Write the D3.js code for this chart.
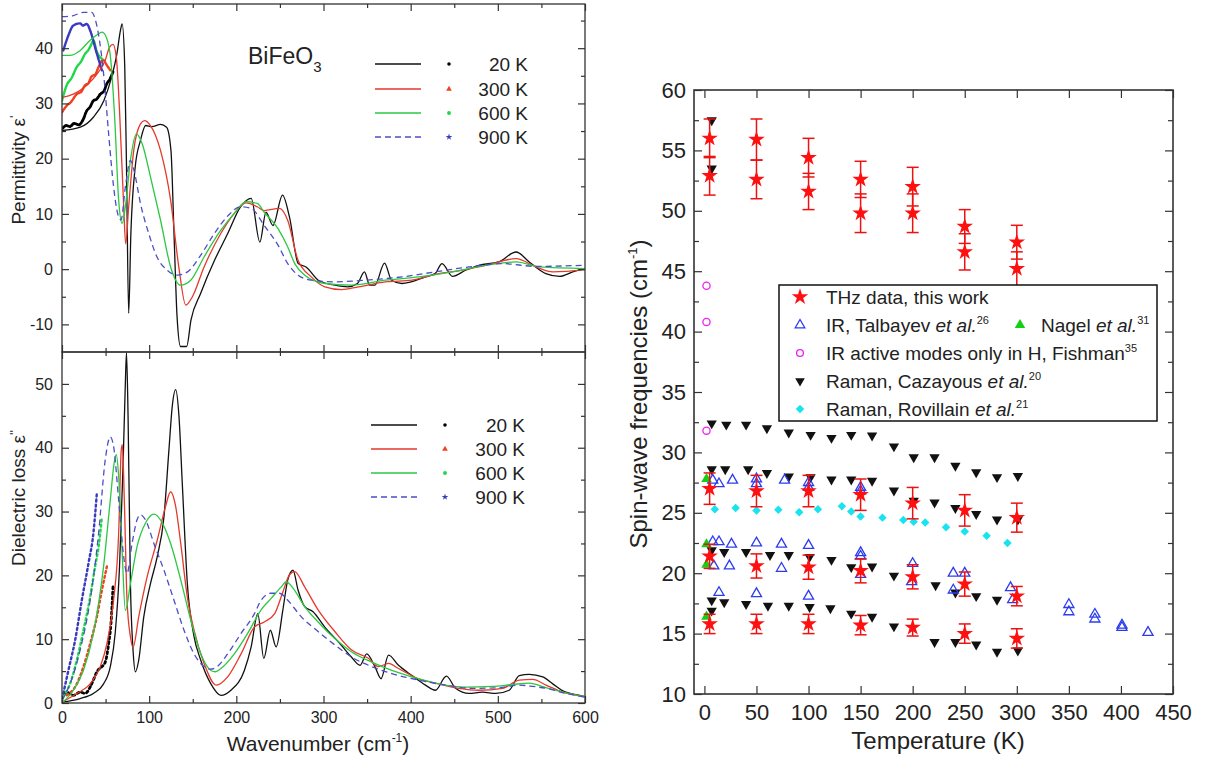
<!DOCTYPE html>
<html>
<head>
<meta charset="utf-8">
<script src="https://cdn.jsdelivr.net/npm/d3@7"></script>
<style>
body { margin: 0; background: #fff; }
text { font-family: "Liberation Sans", Arial, sans-serif; fill: #222; }
</style>
</head>
<body>
<svg id="fig" width="1210" height="760"></svg>
<script>
// ---------- left panels: BiFeO3 permittivity / dielectric loss ----------
var temps = ["20 K", "300 K", "600 K", "900 K"]

// eps' model curves [wavenumber, value]
var eps1_20 = [[0,25.1],[21,25.7],[36,27.5],[48,30.5],[57,34.8],[63,39],[67,43.2],[69,44.4],[72,36.6],[74,18.5],[76.5,-8.0],[79,6.4],[84,18.5],[90,23.3],[96,26],[103,25.8],[113,26.2],[120,25.7],[125,21.5],[128.5,6.4],[132,-8.6],[136,-14],[143,-14],[148,-9.2],[159,-4.4],[175,1.6],[190,6.4],[205,11.3],[217,12.8],[227,4.9],[234,10.3],[242,7.9],[253,13.4],[261,9.4],[271,1.0],[280,0.4],[294,-2.0],[313,-2.9],[328,-3.2],[339,-2.6],[347,-0.5],[353,-2.9],[359,-2.9],[370,1.1],[378,-2.0],[390,-2.6],[417,-1.4],[428,-0.8],[436,1.0],[448,-1.3],[463,-0.2],[478,0.7],[501,1.3],[521,3.1],[536,1.3],[555,-0.8],[571,-1.3],[586,-0.5],[600,0.1]]
var eps1_300 = [[0,31.1],[13,31.7],[28.5,33.3],[42,35.7],[49.6,37.8],[54.6,40.2],[58.5,40.7],[62.3,38.4],[66,28.7],[70.8,11.3],[73,4.6],[76.5,11.3],[82.3,21.5],[90,26.3],[94.6,26.9],[101.5,26],[113,21.5],[124.6,12.5],[134,0.4],[142,-6.5],[149.6,-5],[163,0.4],[182,6.4],[197.7,10.1],[211,12.0],[224,11.3],[232,10.6],[249.5,11.0],[259,8.8],[270.8,1.6],[286,-1.4],[301.5,-3.2],[320.7,-3.7],[340,-3.2],[371,-2.3],[401.5,-2.0],[432,-0.8],[455,-0.3],[486,0.7],[521,1.9],[544,0.4],[563,-0.5],[600,-0.1]]
var eps1_600 = [[0,38.7],[9,38.7],[21,39.6],[32,41.4],[42,42.6],[46,42.9],[51.5,41.7],[56,37.8],[60.4,27.5],[65,12.5],[69,8.3],[72.7,11.3],[78.5,19.7],[85.4,24.5],[92,22.7],[101.5,16.7],[113,8.9],[124.6,0.4],[136,-2.9],[147.7,-2.0],[163,2.2],[182,7.0],[197.7,10.1],[211,12.2],[224,11.9],[232,10.3],[248,7.3],[259,4.0],[267,1.0],[278.5,-1.1],[301.5,-2.6],[332,-2.9],[371,-2.0],[409.5,-1.4],[448,-0.5],[486,0.7],[521,1.3],[548,0.4],[600,0.1]]
var eps1_900 = [[0,45.7],[13,45.9],[24.6,46.5],[34,46.5],[38,45.3],[43,41.4],[47.7,35.4],[53.5,24.5],[59.2,14.9],[63.8,10.1],[67.7,8.9],[72.7,14.9],[78.5,19.7],[83,17.6],[90,11.9],[99.6,6.4],[109,2.2],[120.8,-0.2],[132.3,-1.1],[144,-0.5],[159,2.5],[174.6,6.4],[190,9.6],[205,11.3],[217,11.0],[232,7.9],[248,4.3],[259,1.0],[270.8,-1.1],[286,-2.0],[313,-2.3],[347.5,-2.0],[390,-1.4],[428,-0.5],[467,0.4],[505,1.0],[544,0.5],[600,0.7]]

// eps' THz data
var eps1data_20 = [[0,25.4],[5,26.0],[9,25.8],[14,26.4],[19,26.1],[24,27.0],[28.5,28.7],[32,29.3],[36,30.5],[40,30.8],[44,31.7],[48,32.2],[51.5,33.6],[55,34.4],[58.5,35.7]]
var eps1data_300 = [[0,28.4],[5.4,29.6],[10,30.2],[17,31.7],[22,32.1],[26.5,33.3],[30,33.6],[34,34.9],[38,35.2],[42,36.6],[47,37.9],[51.5,36.9],[55.4,36]]
var eps1data_600 = [[0,30.5],[5.4,33.3],[11,34.6],[17,36.6],[22,37.6],[26.5,39],[30,39.6],[34,40.8],[36,41.4],[40,39.3],[45.8,38.1]]
var eps1data_900 = [[1.5,39.6],[7.3,42.3],[13,44.1],[20.8,44.5],[24,44.1],[28.5,44.4],[32.3,43.2],[40,39],[45.8,36.0]]

// eps'' model curves
var eps2_20 = [[0,0.15],[20.8,0.7],[36,1.5],[47.7,3.0],[55.4,5.7],[61,10.9],[66,21.4],[70,37],[72.7,50.2],[74,54.9],[75.8,44.9],[78.5,18.7],[81.5,8.3],[84.2,4.9],[88,6.7],[93.8,13.5],[101.5,18.7],[109.2,22.9],[117,29.2],[122.7,39.7],[126.5,46.5],[130.4,49.1],[134.2,44.9],[138,34.4],[143.8,18.7],[151.5,10.4],[159.2,6.7],[170.8,3.0],[182.3,1.2],[193.8,2.0],[209.2,5.1],[217,8.8],[224.6,14.0],[231.5,7.0],[239,11.4],[245.7,8.8],[253.4,14.6],[259,19.3],[265,20.8],[270.8,17.7],[278.4,15.1],[288,14.3],[301.5,11.9],[317,9.6],[332,7.2],[342,5.9],[349.6,7.7],[359,5.7],[366,3.8],[374.6,7.5],[386,5.9],[401.5,4.3],[417,2.8],[428.4,2.0],[441,4.2],[451.5,2.3],[467,1.5],[482.3,1.7],[497.6,1.5],[513,2.0],[524.6,4.3],[536,4.5],[551.5,4.1],[563,3.0],[574.6,1.9],[593.8,1.2],[600,1.0]]
var eps2_300 = [[0,0.15],[17,1.5],[32.3,3.0],[43.9,5.7],[51.5,9.3],[59.2,16.1],[65,26.6],[68,39.7],[69.2,40.5],[71.5,31.8],[74.6,16.1],[78.5,10.4],[81.5,8.7],[88,13.5],[97.7,19.8],[109.2,25.5],[118.8,30.8],[124.6,33.1],[130.4,30.8],[136.2,25],[143.8,16.6],[151.5,11.4],[163,6.2],[177,2.8],[190,4.1],[205.4,7.7],[220.8,11.9],[232,12.7],[244,14.0],[253.4,17.4],[261,20.1],[266.9,20.6],[278.4,18.2],[293.8,14.6],[313,11.2],[332.3,8.3],[351.5,7.0],[363,5.7],[374.6,6.2],[386,5.4],[409.2,3.8],[432,3.0],[455.3,2.3],[478.4,2.0],[505.3,2.3],[524.6,3.6],[540,3.7],[555.3,2.8],[574.6,1.7],[600,1.0]]
var eps2_600 = [[0,0],[13,2.0],[24.6,5.1],[36,10.9],[47.7,21.4],[55.4,31.8],[60.4,38.1],[62.3,38.9],[65,35.5],[68.9,24],[72.7,14.5],[78.5,18.7],[86.1,24.5],[95.8,28.2],[105.4,29.6],[113,28.7],[124.6,25.0],[136.2,19.3],[147.7,13.0],[159.2,7.7],[170.8,5.1],[176,4.9],[182.3,5.4],[197.7,7.7],[213,10.9],[228.4,14.6],[240,16.4],[251.5,18.2],[257.3,19.0],[265,18.0],[278.4,15.1],[293.8,12.7],[313,10.1],[332.3,8.0],[355.4,6.4],[378.4,5.1],[401.5,4.1],[432.3,3.0],[463,2.5],[493.8,2.6],[517,2.9],[536,3.1],[555.3,2.4],[574.6,1.7],[600,1.0]]
var eps2_900 = [[0,0.4],[9.2,3.0],[20.8,8.3],[32.3,16.1],[42,26.6],[49.6,38.1],[55.4,41.7],[59.2,40.2],[65,31.8],[70.8,22.9],[74.6,20.3],[80.4,25.0],[86.1,28.7],[90,29.5],[95.8,28.7],[105.4,25.0],[117,20.8],[128.5,16.1],[140,11.4],[151.5,7.7],[163,5.7],[170,5.3],[178,5.7],[190,7.7],[205.4,10.9],[220.8,14.0],[228.4,16.1],[240,17.2],[249.6,17.2],[259,16.1],[274.6,13.5],[293.8,11.2],[313,9.1],[332.3,7.2],[355.4,5.7],[378.4,4.6],[409.2,3.6],[440,2.8],[470.7,2.3],[501.5,2.4],[524.6,2.8],[540,2.6],[555.3,2.3],[578.4,1.5],[600,0.9]]

// eps'' THz data
var eps2data_20 = [[0,0.7],[5.4,1.7],[13,1.2],[20.8,1.7],[26.5,1.5],[32.3,2.5],[36,3.6],[40,4.9],[45.8,5.7],[49.6,6.4],[53.5,9.3],[56.2,12.5],[58.5,18.2]]
var eps2data_300 = [[5.4,1.2],[17,3.0],[24.6,5.7],[32.3,9.3],[40,13.5],[45.8,17.7],[51.5,21.4]]
var eps2data_600 = [[1.5,1.0],[9.2,3.0],[17,6.7],[24.6,11.4],[32.3,16.6],[38,21.4],[42,24.5],[45.8,29.2]]
var eps2data_900 = [[1.5,1.5],[7.3,5.1],[15,9.8],[22.7,16.1],[30.4,21.9],[36,26.6],[40,32.9]]

var wnTicks = [0, 100, 200, 300, 400, 500, 600]
var wnMinor = [50, 150, 250, 350, 450, 550]
var eps1Ticks = [-10, 0, 10, 20, 30, 40]
var eps1Minor = [-5, 5, 15, 25, 35, 45]
var eps2Ticks = [0, 10, 20, 30, 40, 50]
var eps2Minor = [5, 15, 25, 35, 45]

// ---------- right panel: spin-wave frequencies ----------
var thzT   = [5,5,5,5,5, 50,50,50,50,50, 100,100,100,100,100, 150,150,150,150,150, 200,200,200,200,200, 250,250,250,250,250, 300,300,300,300,300]
var thzF   = [56.0,52.9,27.0,21.4,15.8, 55.9,52.6,26.8,20.6,15.8, 54.4,51.6,26.8,20.5,15.8, 52.6,49.8,26.5,20.2,15.7, 52.0,49.8,25.8,19.7,15.5, 48.7,46.6,25.2,19.1,15.0, 47.4,45.2,24.6,18.1,14.6]
var thzErr = [1.6,1.6,1.3,1.0,0.8, 1.7,1.6,1.3,1.0,0.8, 1.6,1.5,1.3,1.0,0.8, 1.5,1.6,1.3,1.0,0.8, 1.6,1.6,1.3,1.0,0.7, 1.4,1.5,1.3,1.0,0.8, 1.4,1.4,1.2,0.8,0.8]

var talbT = [8,14,27,50,50,77,100,100,150,150, 8,14,26,50,74,100,150,150,200,239,250,294, 9,24,74,150,199,239,296, 14,50,100, 350,350,375,375,401,401,426]
var talbF = [27.7,27.4,27.7,27.8,27.4,27.7,27.5,27.1,27.1,26.8, 22.6,22.6,22.4,22.5,22.4,22.3,21.7,21.4,20.8,20.0,20.0,18.8, 20.6,20.6,20.4,19.9,19.3,18.6,17.8, 18.4,18.3,18.1, 17.4,16.8,16.6,16.2,15.7,15.5,15.1]

var nagelT = [2, 2, 2, 2]
var nagelF = [27.8, 22.4, 20.7, 16.4]

var fishT = [2, 2, 2]
var fishF = [43.8, 40.8, 31.8]

var cazT = [7,7,
  7,21,40,60,81,102,122,141,161,182,201,221,241,261,281,301,
  7,20,42,60,81,102,122,141,161,182,201,221,241,261,281,301,
  7,19,40,63,81,101,122,141,161,182,222,241,261,281,
  7,7,19,40,61,81,101,121,141,161,182,221,241,261,281,301]
var cazF = [57.5,53.5,
  32.4,32.3,32.3,32.0,31.65,31.45,31.2,31.45,31.4,30.5,29.6,29.6,28.9,28.35,27.95,28.05,
  28.6,28.6,28.6,28.3,28.0,27.95,27.75,27.75,27.65,26.85,26.0,25.85,25.4,24.9,24.45,24.45,
  21.9,21.75,21.75,21.5,21.5,21.35,21.1,20.5,20.55,19.8,19.0,18.4,18.1,17.8,
  17.75,16.9,17.6,17.45,17.3,17.3,17.2,17.1,16.65,16.4,15.6,14.3,14.3,14.1,13.5,13.6]

var rovT = [10,30,50,71,91,109,132,141,150,171,191,201,212,232,250,271,291]
var rovF = [25.3,25.4,25.2,25.25,25.05,25.3,25.55,25.1,24.7,24.6,24.4,24.25,24.2,23.8,23.45,23.1,22.5]

var tTicks = [0, 50, 100, 150, 200, 250, 300, 350, 400, 450]
var fTicks = [10, 15, 20, 25, 30, 35, 40, 45, 50, 55, 60]
var fMinor = [12.5, 17.5, 22.5, 27.5, 32.5, 37.5, 42.5, 47.5, 52.5, 57.5]

// ---------- drawing ----------
var svg = d3.select('#fig')

var lineCols = ["#111111", "#e5392b", "#2bc843", "#4d4dc8"]
var dataCols = ["#000000", "#f0401c", "#1fd848", "#3a3ac0"]

var xW = d3.scaleLinear().domain([0, 600]).range([62, 585])
var yE1 = d3.scaleLinear().domain([-15, 48]).range([352, 4])
var yE2 = d3.scaleLinear().domain([0, 55]).range([703, 352])

function styleAxis(g, fs) {
    g.select('.domain').remove()
    g.selectAll('.tick line').attr('stroke', '#333').attr('stroke-width', 1.2)
    g.selectAll('.tick text').style('font-size', fs + 'px').attr('fill', '#222')
        .style('font-family', '"Liberation Sans", Arial, sans-serif')
}

var noLab = () => ''
var numLab = d => String(d)

function panelFrame(x, y, majX, minX, majY, minY, labelX, fsTick, big) {
    var len = big ? 8 : 7, mlen = big ? 5 : 4
    var x0 = x.range()[0], x1 = x.range()[1], y0 = y.range()[0], y1 = y.range()[1]
    svg.append('g').attr('transform', `translate(0,${y0})`)
        .call(d3.axisBottom(x).tickValues(majX).tickSize(-len).tickPadding(big ? 10 : 9).tickFormat(labelX ? numLab : noLab))
        .call(g => styleAxis(g, fsTick))
    svg.append('g').attr('transform', `translate(0,${y1})`)
        .call(d3.axisTop(x).tickValues(majX).tickSize(-len).tickFormat(noLab))
        .call(g => styleAxis(g, fsTick))
    if (minX.length) {
        svg.append('g').attr('transform', `translate(0,${y0})`)
            .call(d3.axisBottom(x).tickValues(minX).tickSize(-mlen).tickFormat(noLab)).call(g => styleAxis(g, fsTick))
        svg.append('g').attr('transform', `translate(0,${y1})`)
            .call(d3.axisTop(x).tickValues(minX).tickSize(-mlen).tickFormat(noLab)).call(g => styleAxis(g, fsTick))
    }
    svg.append('g').attr('transform', `translate(${x0},0)`)
        .call(d3.axisLeft(y).tickValues(majY).tickSize(-len).tickPadding(big ? 8 : 9).tickFormat(numLab))
        .call(g => styleAxis(g, fsTick))
    svg.append('g').attr('transform', `translate(${x1},0)`)
        .call(d3.axisRight(y).tickValues(majY).tickSize(-len).tickFormat(noLab))
        .call(g => styleAxis(g, fsTick))
    svg.append('g').attr('transform', `translate(${x0},0)`)
        .call(d3.axisLeft(y).tickValues(minY).tickSize(-mlen).tickFormat(noLab)).call(g => styleAxis(g, fsTick))
    svg.append('g').attr('transform', `translate(${x1},0)`)
        .call(d3.axisRight(y).tickValues(minY).tickSize(-mlen).tickFormat(noLab)).call(g => styleAxis(g, fsTick))
    svg.append('rect').attr('x', x0).attr('y', y1).attr('width', x1 - x0).attr('height', y0 - y1)
        .attr('fill', 'none').attr('stroke', '#333').attr('stroke-width', big ? 1.6 : 1.3)
}

// clip paths for the two left panels
var defs = svg.append('defs')
defs.append('clipPath').attr('id', 'clipTop').append('rect')
    .attr('x', 62).attr('y', 4).attr('width', 523).attr('height', 348)
defs.append('clipPath').attr('id', 'clipBot').append('rect')
    .attr('x', 62).attr('y', 352).attr('width', 523).attr('height', 351)

function drawCurves(clip, yScale, models, datas) {
    var g = svg.append('g').attr('clip-path', `url(#${clip})`)
    var line = d3.line().x(d => xW(d[0])).y(d => yScale(d[1])).curve(d3.curveMonotoneX)
    var dash = clip == 'clipTop' ? '2.5,1' : '2,3'
    datas.forEach((d, i) => {
        g.append('path').datum(d).attr('d', line)
            .attr('fill', 'none').attr('stroke', dataCols[i]).attr('stroke-width', i == 0 ? 2.8 : 2.4)
            .attr('stroke-dasharray', dash).attr('stroke-linecap', 'round')
    })
    models.forEach((d, i) => {
        g.append('path').datum(d).attr('d', line)
            .attr('fill', 'none').attr('stroke', lineCols[i]).attr('stroke-width', 1.3)
            .attr('stroke-dasharray', i == 3 ? '6,4' : null)
    })
}

drawCurves('clipTop', yE1, [eps1_20, eps1_300, eps1_600, eps1_900], [eps1data_20, eps1data_300, eps1data_600, eps1data_900])
drawCurves('clipBot', yE2, [eps2_20, eps2_300, eps2_600, eps2_900], [eps2data_20, eps2data_300, eps2data_600, eps2data_900])

panelFrame(xW, yE1, wnTicks, wnMinor, eps1Ticks, eps1Minor, false, 16, false)
panelFrame(xW, yE2, wnTicks, wnMinor, eps2Ticks, eps2Minor, true, 16, false)

// left legends
var legSym = [d3.symbolCircle, d3.symbolTriangle, d3.symbolCircle, d3.symbolStar]
var legSize = [10, 14, 12, 14]
function leftLegend(xs, xm, xt, ys) {
    temps.forEach((t, i) => {
        var y = ys[i]
        svg.append('line').attr('x1', xs).attr('x2', xs + 46).attr('y1', y).attr('y2', y)
            .attr('stroke', lineCols[i]).attr('stroke-width', 1.4).attr('stroke-dasharray', i == 3 ? '6,4' : null)
        svg.append('path').attr('d', d3.symbol().type(legSym[i]).size(legSize[i]))
            .attr('transform', `translate(${xm},${y})`).attr('fill', dataCols[i])
        svg.append('text').attr('x', xt).attr('y', y + 7).attr('text-anchor', 'end')
            .style('font-size', '19px').text(t)
    })
}
leftLegend(375, 449, 528, [64, 89, 113, 137])
leftLegend(371, 445, 525, [425, 449, 473, 497])

var bfo = svg.append('text').attr('x', 248).attr('y', 64).style('font-size', '23px')
bfo.append('tspan').text('BiFeO')
bfo.append('tspan').attr('dy', 8).style('font-size', '15px').text('3')

function subText(sel, parts) {
    parts.forEach(p => {
        var ts = sel.append('tspan').text(p.t)
        if (p.i) ts.style('font-style', 'italic')
        if (p.sup) ts.attr('dy', p.dy).style('font-size', p.fs + 'px')
        if (p.back) ts.attr('dy', p.back)
    })
}

var wnLab = svg.append('text').attr('x', 318).attr('y', 751).attr('text-anchor', 'middle').style('font-size', '21px')
subText(wnLab, [{t: 'Wavenumber (cm'}, {t: '-1', sup: true, dy: -9, fs: 12}, {t: ')', back: 9}])

var p1 = svg.append('text').attr('transform', 'translate(25,170) rotate(-90)').attr('text-anchor', 'middle').style('font-size', '19px')
subText(p1, [{t: 'Permittivity ε'}, {t: "'", sup: true, dy: -6, fs: 13}])
var p2 = svg.append('text').attr('transform', 'translate(25,498) rotate(-90)').attr('text-anchor', 'middle').style('font-size', '19px')
subText(p2, [{t: 'Dielectric loss ε'}, {t: "''", sup: true, dy: -6, fs: 13}])

// ---------- right panel ----------
var xT = d3.scaleLinear().domain([-10, 450]).range([694, 1173])
var yF = d3.scaleLinear().domain([10, 60]).range([694, 90])

var gR = svg.append('g')
function pts(T, F) { return T.map((t, i) => ({t: t, f: F[i]})) }

gR.selectAll('.caz').data(pts(cazT, cazF)).enter().append('path')
    .attr('d', d3.symbol().type(d3.symbolTriangle).size(46))
    .attr('transform', d => `translate(${xT(d.t)},${yF(d.f)}) rotate(180)`)
    .attr('fill', '#111')
gR.selectAll('.rov').data(pts(rovT, rovF)).enter().append('path')
    .attr('d', d3.symbol().type(d3.symbolSquare).size(36))
    .attr('transform', d => `translate(${xT(d.t)},${yF(d.f)}) rotate(45)`)
    .attr('fill', '#19e3ee')
gR.selectAll('.talb').data(pts(talbT, talbF)).enter().append('path')
    .attr('d', d3.symbol().type(d3.symbolTriangle).size(44))
    .attr('transform', d => `translate(${xT(d.t)},${yF(d.f)})`)
    .attr('fill', 'none').attr('stroke', '#2b3cf0').attr('stroke-width', 1.3)
gR.selectAll('.nagel').data(pts(nagelT, nagelF)).enter().append('path')
    .attr('d', d3.symbol().type(d3.symbolTriangle).size(48))
    .attr('transform', d => `translate(${xT(d.t)},${yF(d.f)})`)
    .attr('fill', '#12d012')
gR.selectAll('.fish').data(pts(fishT, fishF)).enter().append('circle')
    .attr('cx', d => xT(d.t)).attr('cy', d => yF(d.f)).attr('r', 3.6)
    .attr('fill', 'none').attr('stroke', '#f020f0').attr('stroke-width', 1.3)

var thz = thzT.map((t, i) => ({t: t, f: thzF[i], e: thzErr[i]}))
var eb = gR.selectAll('.eb').data(thz).enter().append('g').attr('stroke', '#ee1111').attr('stroke-width', 1.5)
eb.append('line').attr('x1', d => xT(d.t)).attr('x2', d => xT(d.t))
    .attr('y1', d => yF(d.f + d.e)).attr('y2', d => yF(d.f - d.e))
eb.append('line').attr('x1', d => xT(d.t) - 6).attr('x2', d => xT(d.t) + 6)
    .attr('y1', d => yF(d.f + d.e)).attr('y2', d => yF(d.f + d.e))
eb.append('line').attr('x1', d => xT(d.t) - 6).attr('x2', d => xT(d.t) + 6)
    .attr('y1', d => yF(d.f - d.e)).attr('y2', d => yF(d.f - d.e))
gR.selectAll('.star').data(thz).enter().append('path')
    .attr('d', d3.symbol().type(d3.symbolStar).size(85))
    .attr('transform', d => `translate(${xT(d.t)},${yF(d.f)})`)
    .attr('fill', '#ff1010')

panelFrame(xT, yF, tTicks, [], fTicks, fMinor, true, 22, true)

var tLab = svg.append('text').attr('x', 938).attr('y', 749).attr('text-anchor', 'middle').style('font-size', '24px').text('Temperature (K)')
var fLab = svg.append('text').attr('transform', 'translate(647,394) rotate(-90)').attr('text-anchor', 'middle').style('font-size', '24px')
subText(fLab, [{t: 'Spin-wave frequencies (cm'}, {t: '-1', sup: true, dy: -10, fs: 13}, {t: ')', back: 10}])

// legend box
var lg = svg.append('g')
lg.append('rect').attr('x', 779).attr('y', 285).attr('width', 378).attr('height', 136)
    .attr('fill', '#fff').attr('stroke', '#111').attr('stroke-width', 1.5)
var rowY = [297, 325, 353, 381, 409]
lg.append('path').attr('d', d3.symbol().type(d3.symbolStar).size(85)).attr('transform', `translate(800,${rowY[0]})`).attr('fill', '#ff1010')
lg.append('path').attr('d', d3.symbol().type(d3.symbolTriangle).size(40)).attr('transform', `translate(800,${rowY[1]})`)
    .attr('fill', 'none').attr('stroke', '#2b3cf0').attr('stroke-width', 1.3)
lg.append('path').attr('d', d3.symbol().type(d3.symbolTriangle).size(48)).attr('transform', `translate(1020,${rowY[1]})`).attr('fill', '#12d012')
lg.append('circle').attr('cx', 800).attr('cy', rowY[2]).attr('r', 3.4).attr('fill', 'none').attr('stroke', '#f020f0').attr('stroke-width', 1.3)
lg.append('path').attr('d', d3.symbol().type(d3.symbolTriangle).size(40)).attr('transform', `translate(800,${rowY[3]}) rotate(180)`).attr('fill', '#111')
lg.append('path').attr('d', d3.symbol().type(d3.symbolSquare).size(36)).attr('transform', `translate(800,${rowY[4]}) rotate(45)`).attr('fill', '#19e3ee')

var legTexts = [
    [826, rowY[0], [{t: 'THz data, this work'}]],
    [826, rowY[1], [{t: 'IR, Talbayev '}, {t: 'et al.', i: true}, {t: '26', sup: true, dy: -8, fs: 11}]],
    [1041, rowY[1], [{t: 'Nagel '}, {t: 'et al.', i: true}, {t: '31', sup: true, dy: -8, fs: 11}]],
    [826, rowY[2], [{t: 'IR active modes only in H, Fishman'}, {t: '35', sup: true, dy: -8, fs: 11}]],
    [826, rowY[3], [{t: 'Raman, Cazayous '}, {t: 'et al.', i: true}, {t: '20', sup: true, dy: -8, fs: 11}]],
    [826, rowY[4], [{t: 'Raman, Rovillain '}, {t: 'et al.', i: true}, {t: '21', sup: true, dy: -8, fs: 11}]]
]
legTexts.forEach(r => {
    var tx = lg.append('text').attr('x', r[0]).attr('y', r[1] + 7).style('font-size', '19px')
    subText(tx, r[2])
})
</script>
</body>
</html>
